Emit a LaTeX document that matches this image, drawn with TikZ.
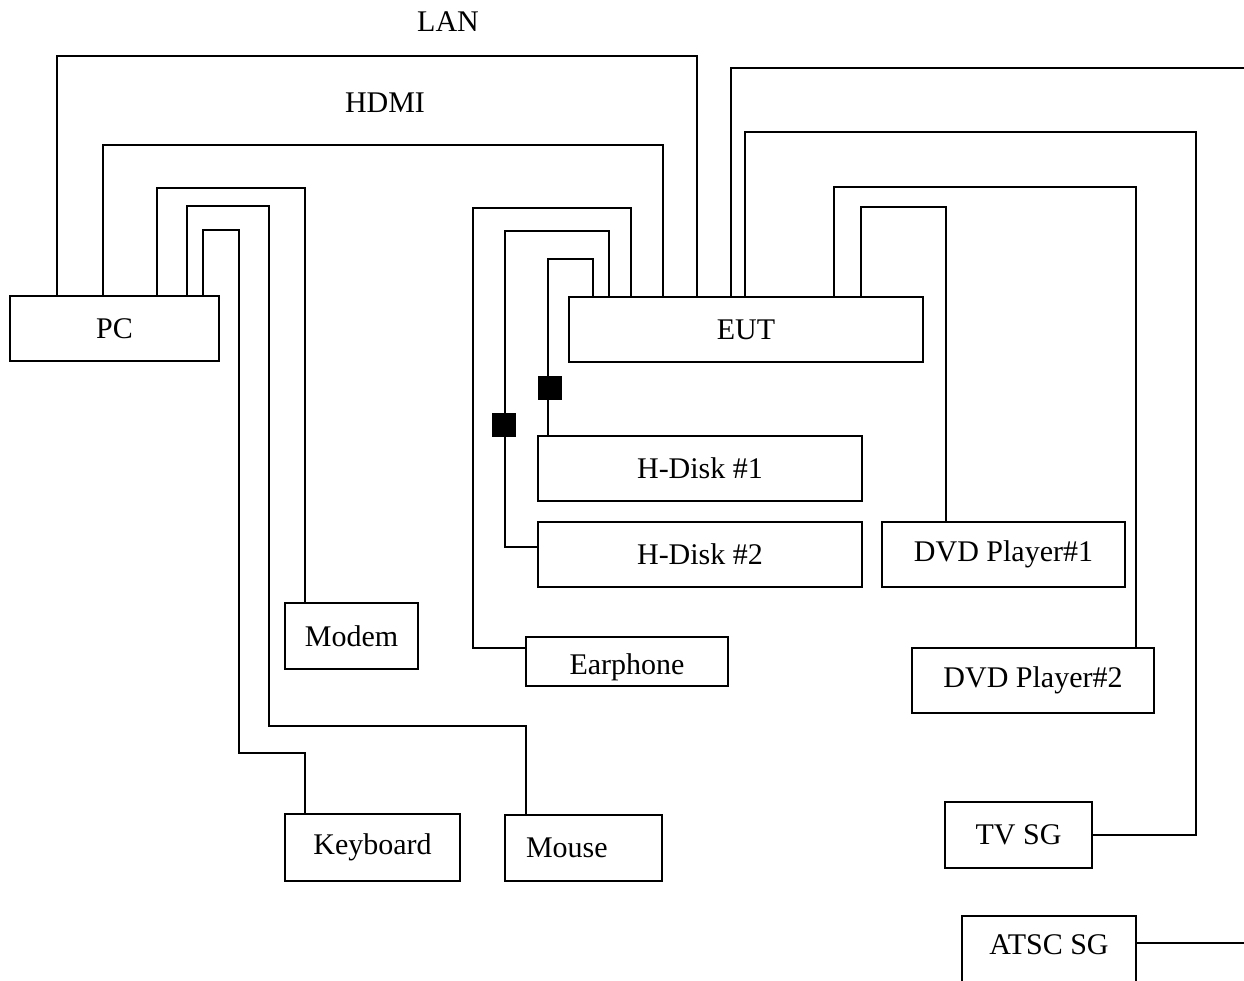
\documentclass[tikz,border=0pt]{standalone}
\usepackage{fontspec}
\setmainfont{Liberation Serif}

\begin{document}
\begin{tikzpicture}[x=1pt,y=-1pt]
\tikzstyle{device-node}=
[
	draw, rectangle, line width=1.5pt, inner sep=0pt,
	font=\fontsize{30}{36}\selectfont
]
\tikzstyle{cable-label}=[inner sep=0pt, font=\fontsize{30}{36}\selectfont]
\tikzstyle{cable}=[line width=1.5pt]
\tikzstyle{ferrite-node}=[fill=black, minimum size=24pt, inner sep=0pt]

\clip (0,0) rectangle (1244,981);

% devices
\node[device-node, minimum width=209pt, minimum height=65pt] (pc) at (114.5,328.5) {PC};
\node[device-node, minimum width=354pt, minimum height=65pt] (eut) at (746,329.5) {EUT};
\node[device-node, minimum width=324pt, minimum height=65pt] (hdisk1) at (700,468.5) {H-Disk \#1};
\node[device-node, minimum width=324pt, minimum height=65pt] (hdisk2) at (700,554.5) {H-Disk \#2};
\node[device-node, minimum width=243pt, minimum height=65pt] (dvd1) at (1003.5,554.5) {DVD Player\#1};
\node[device-node, minimum width=242pt, minimum height=65pt] (dvd2) at (1033,680.5) {DVD Player\#2};
\node[device-node, minimum width=147pt, minimum height=66pt] (tvsg) at (1018.5,835) {TV SG};
\node[device-node, minimum width=174pt, minimum height=70pt, anchor=north] (atsc) at (1049,915) {\raisebox{6pt}[\height][\depth]{ATSC SG}};
\node[device-node, minimum width=202pt, minimum height=49pt] (earphone) at (627,661.5) {\raisebox{-6pt}[\height][\depth]{Earphone}};
\node[device-node, minimum width=133pt, minimum height=66pt] (modem) at (351.5,636) {Modem};
\node[device-node, minimum width=175pt, minimum height=67pt] (keyboard) at (372.5,847.5) {Keyboard};
\node[device-node, minimum width=157pt, minimum height=66pt, text width=115pt, align=left] (mouse) at (583.5,848) {Mouse};

% ferrite cores
\node[ferrite-node] (ferrite1) at (550,387.5) {};
\node[ferrite-node] (ferrite2) at (504,425) {};

\node[cable-label] (lan) at (448,22) {LAN};
\node[cable-label] (hdmi) at (385,103) {HDMI};

\coordinate (atsc-in) at (1244,68);
\coordinate (atsc-out) at (1244,943);

% PC cables
\draw[cable] (57,0 |- pc.north) |- (697,56) -- (697,0 |- eut.north);
\draw[cable] (103,0 |- pc.north) |- (663,145) -- (663,0 |- eut.north);
\draw[cable] (157,0 |- pc.north) |- (305,188) -- (305,0 |- modem.north);
\draw[cable] (187,0 |- pc.north) |- (269,206) |- (526,726) -- (526,0 |- mouse.north);
\draw[cable] (203,0 |- pc.north) |- (239,230) |- (305,753) -- (305,0 |- keyboard.north);

% EUT cables
\draw[cable] (631,0 |- eut.north) |- (473,208) |- (earphone.west |- 0,648);
\draw[cable] (609,0 |- eut.north) |- (505,231) |- (hdisk2.west |- 0,547);
\draw[cable] (593,0 |- eut.north) |- (548,259) -- (548,0 |- hdisk1.north);
\draw[cable] (731,0 |- eut.north) |- (atsc-in);
\draw[cable] (atsc.east |- atsc-out) -- (atsc-out);
\draw[cable] (745,0 |- eut.north) |- (1196,132) |- (tvsg.east);
\draw[cable] (834,0 |- eut.north) |- (1136,187) -- (1136,0 |- dvd2.north);
\draw[cable] (861,0 |- eut.north) |- (946,207) -- (946,0 |- dvd1.north);
\end{tikzpicture}
\end{document}
